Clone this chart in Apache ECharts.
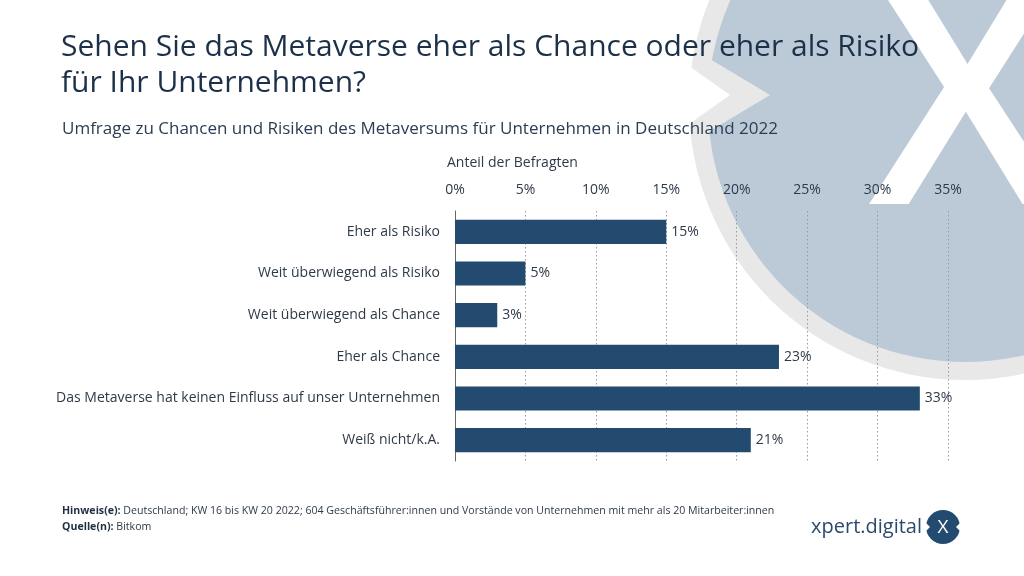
<!DOCTYPE html>
<html>
<head>
<meta charset="utf-8">
<script src="https://cdn.jsdelivr.net/npm/echarts@6/dist/echarts.min.js"></script>
<style>
html,body{margin:0;padding:0;background:#fff;}
#chart{width:1024px;height:576px;}
</style>
</head>
<body>
<div id="chart"></div>
<script>
const categories = [
  "Eher als Risiko",
  "Weit überwiegend als Risiko",
  "Weit überwiegend als Chance",
  "Eher als Chance",
  "Das Metaverse hat keinen Einfluss auf unser Unternehmen",
  "Weiß nicht/k.A."
];
const values = [15, 5, 3, 23, 33, 21];
const tickValues = [0, 5, 10, 15, 20, 25, 30, 35];

const titleText = "Sehen Sie das Metaverse eher als Chance oder eher als Risiko\nfür Ihr Unternehmen?";
const subtitleText = "Umfrage zu Chancen und Risiken des Metaversums für Unternehmen in Deutschland 2022";
const axisTitle = "Anteil der Befragten";
const noteLabel = "Hinweis(e):";
const noteText = " Deutschland; KW 16 bis KW 20 2022; 604 Geschäftsführer:innen und Vorstände von Unternehmen mit mehr als 20 Mitarbeiter:innen";
const sourceLabel = "Quelle(n):";
const sourceText = " Bitkom";

const FONT = "'Open Sans', 'Noto Sans', sans-serif";
const TXT = "#2f3a48";
const BAR = "#234b6f";

const chart = echarts.init(document.getElementById('chart'), null, {renderer: 'canvas'});
chart.setOption({
  animation: false,
  backgroundColor: '#ffffff',
  textStyle: {fontFamily: FONT},
  title: [{
    text: titleText,
    left: 56, top: 24,
    textStyle: {fontFamily: FONT, fontSize: 30, fontWeight: 'normal', color: '#1c3149', lineHeight: 36}
  }, {
    text: subtitleText,
    left: 57, top: 116,
    textStyle: {fontFamily: FONT, fontSize: 17, fontWeight: 'normal', color: '#2b3d52'}
  }],
  grid: {left: 455, right: 76, top: 211, height: 250, containLabel: false},
  xAxis: {
    type: 'value',
    position: 'top',
    min: 0, max: 35, interval: 5,
    axisLine: {show: false},
    axisTick: {show: false},
    axisLabel: {
      margin: 14,
      fontFamily: FONT, fontSize: 14, color: TXT,
      formatter: v => tickValues.indexOf(v) >= 0 ? v + '%' : ''
    },
    splitLine: {show: true, lineStyle: {type: [1.5, 2.5], color: '#9a9a9a', width: 1}}
  },
  yAxis: {
    type: 'category',
    data: categories,
    inverse: true,
    axisLine: {show: true, lineStyle: {color: '#666', width: 1}},
    axisTick: {show: false},
    axisLabel: {margin: 15, fontFamily: FONT, fontSize: 14, color: TXT}
  },
  series: [{
    type: 'bar',
    data: values,
    barCategoryGap: '42%',
    itemStyle: {color: BAR},
    z: 3,
    label: {
      show: true, position: 'right', distance: 5,
      fontFamily: FONT, fontSize: 14, color: TXT,
      formatter: p => p.value + '%'
    }
  }],
  graphic: [
    // background watermark
    {type: 'circle', z: -20, silent: true, shape: {cx: 965, cy: 104, r: 276}, style: {fill: '#e8e8e8'}},
    {type: 'circle', z: -19, silent: true, shape: {cx: 965, cy: 105, r: 257}, style: {fill: '#bccad7'}},
    {type: 'polygon', z: -18, silent: true, shape: {points: [[700, 53], [770, 95], [700, 137]]}, style: {fill: '#e8e8e8'}},
    {type: 'polygon', z: -17, silent: true, shape: {points: [[668, 51], [730, 95], [668, 139]]}, style: {fill: '#ffffff'}},
    {type: 'text', z: -16, silent: true, style: {text: 'X', x: 967, y: 114, align: 'center', verticalAlign: 'middle', fontFamily: FONT, fontSize: 316, fontWeight: 600, fill: '#ffffff'}},
    // axis title
    {type: 'text', z: 10, style: {text: axisTitle, x: 447, y: 163, verticalAlign: 'middle', fontFamily: FONT, fontSize: 14, fill: TXT}},
    // footer
    {type: 'text', z: 10, style: {
      x: 62, y: 511, verticalAlign: 'middle',
      rich: {b: {fontFamily: FONT, fontSize: 10.6, fontWeight: 'bold', fill: '#1f2f42'}, n: {fontFamily: FONT, fontSize: 10.6, fill: '#2f3a48'}},
      text: '{b|' + noteLabel + '}{n|' + noteText + '}'
    }},
    {type: 'text', z: 10, style: {
      x: 62, y: 527, verticalAlign: 'middle',
      rich: {b: {fontFamily: FONT, fontSize: 10.6, fontWeight: 'bold', fill: '#1f2f42'}, n: {fontFamily: FONT, fontSize: 10.6, fill: '#2f3a48'}},
      text: '{b|' + sourceLabel + '}{n|' + sourceText + '}'
    }},
    // logo
    {type: 'text', z: 10, style: {text: 'xpert.digital', x: 922, y: 527, align: 'right', verticalAlign: 'middle', fontFamily: FONT, fontSize: 20, fill: '#2b4a6b'}},
    {type: 'circle', z: 10, shape: {cx: 943, cy: 527, r: 17}, style: {fill: '#234b6f'}},
    {type: 'polygon', z: 11, shape: {points: [[924, 521], [930, 527], [924, 533]]}, style: {fill: '#ffffff'}},
    {type: 'polygon', z: 11, shape: {points: [[962, 521], [956, 527], [962, 533]]}, style: {fill: '#ffffff'}},
    {type: 'text', z: 12, style: {text: 'X', x: 943, y: 528, align: 'center', verticalAlign: 'middle', fontFamily: FONT, fontSize: 19, fill: '#ffffff'}}
  ]
});
</script>
</body>
</html>
